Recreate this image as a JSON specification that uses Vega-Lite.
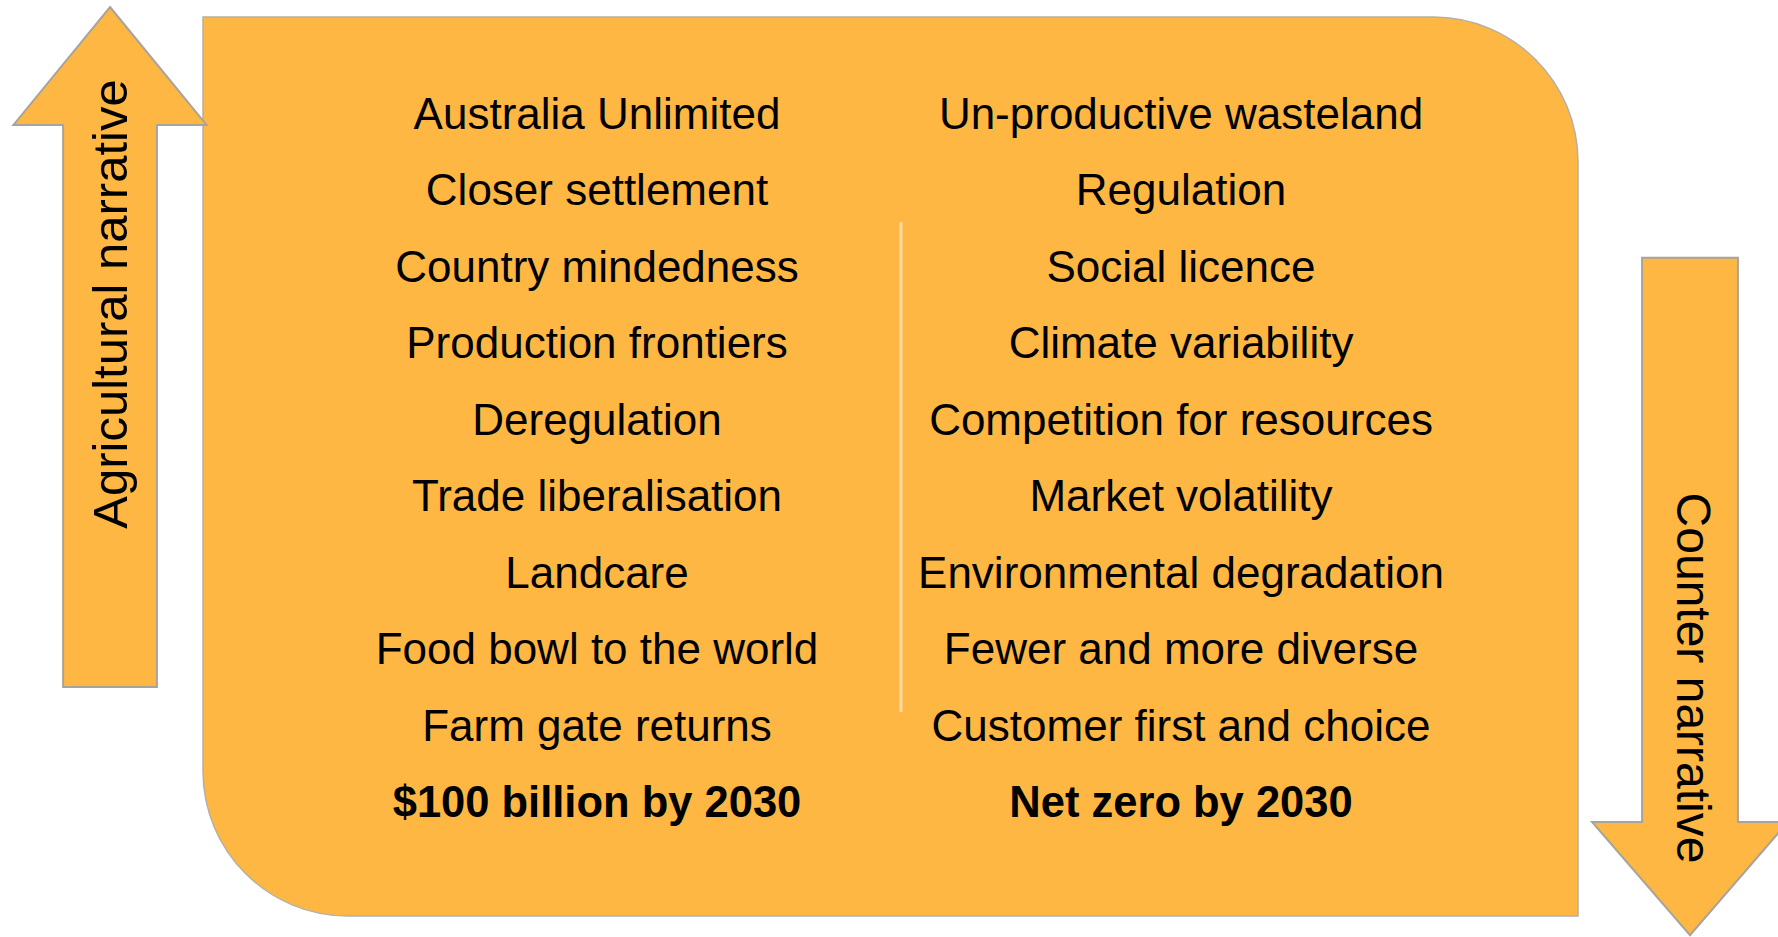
{
  "$schema": "https://vega.github.io/schema/vega-lite/v6.json",
  "width": 1778,
  "height": 937,
  "padding": 0,
  "autosize": {"type": "none"},
  "background": "#ffffff",
  "config": {"view": {"stroke": null}},
  "datasets": {
    "panel": [{"part": "panel", "left": 203, "right": 1578, "top": 17, "bottom": 916}],
    "divider": [{"part": "divider", "x": 901, "top": 222, "bottom": 712}],
    "arrows": [
      {"name": "Agricultural narrative", "dir": "up", "cx": 110, "cy": 347, "tx": 112, "ty": 304},
      {"name": "Counter narrative", "dir": "down", "cx": 1690, "cy": 596.5, "tx": 1691, "ty": 678}
    ],
    "items": [
      {"column": "left", "row": 1, "label": "Australia Unlimited"},
      {"column": "left", "row": 2, "label": "Closer settlement"},
      {"column": "left", "row": 3, "label": "Country mindedness"},
      {"column": "left", "row": 4, "label": "Production frontiers"},
      {"column": "left", "row": 5, "label": "Deregulation"},
      {"column": "left", "row": 6, "label": "Trade liberalisation"},
      {"column": "left", "row": 7, "label": "Landcare"},
      {"column": "left", "row": 8, "label": "Food bowl to the world"},
      {"column": "left", "row": 9, "label": "Farm gate returns"},
      {"column": "left", "row": 10, "label": "$100 billion by 2030"},
      {"column": "right", "row": 1, "label": "Un-productive wasteland"},
      {"column": "right", "row": 2, "label": "Regulation"},
      {"column": "right", "row": 3, "label": "Social licence"},
      {"column": "right", "row": 4, "label": "Climate variability"},
      {"column": "right", "row": 5, "label": "Competition for resources"},
      {"column": "right", "row": 6, "label": "Market volatility"},
      {"column": "right", "row": 7, "label": "Environmental degradation"},
      {"column": "right", "row": 8, "label": "Fewer and more diverse"},
      {"column": "right", "row": 9, "label": "Customer first and choice"},
      {"column": "right", "row": 10, "label": "Net zero by 2030"}
    ]
  },
  "resolve": {"scale": {"x": "independent", "y": "independent"}},
  "layer": [
    {
      "data": {"name": "panel"},
      "mark": {"type": "rect", "fill": "#6e5a36", "opacity": 0.55, "xOffset": 3, "yOffset": 3, "cornerRadiusTopRight": 145, "cornerRadiusBottomLeft": 145},
      "encoding": {
        "x": {"field": "left", "type": "quantitative", "scale": {"domain": [0, 1778], "nice": false, "zero": false}, "axis": null},
        "x2": {"field": "right"},
        "y": {"field": "top", "type": "quantitative", "scale": {"domain": [0, 937], "nice": false, "zero": false, "reverse": true}, "axis": null},
        "y2": {"field": "bottom"}
      }
    },
    {
      "data": {"name": "panel"},
      "mark": {"type": "rect", "fill": "#feb742", "stroke": "#b4b0a8", "strokeWidth": 1.5, "cornerRadiusTopRight": 145, "cornerRadiusBottomLeft": 145},
      "encoding": {
        "x": {"field": "left", "type": "quantitative", "scale": {"domain": [0, 1778], "nice": false, "zero": false}, "axis": null},
        "x2": {"field": "right"},
        "y": {"field": "top", "type": "quantitative", "scale": {"domain": [0, 937], "nice": false, "zero": false, "reverse": true}, "axis": null},
        "y2": {"field": "bottom"}
      }
    },
    {
      "data": {"name": "divider"},
      "mark": {"type": "rule", "stroke": "#fcd9a4", "strokeWidth": 3},
      "encoding": {
        "x": {"field": "x", "type": "quantitative", "scale": {"domain": [0, 1778], "nice": false, "zero": false}, "axis": null},
        "y": {"field": "top", "type": "quantitative", "scale": {"domain": [0, 937], "nice": false, "zero": false, "reverse": true}, "axis": null},
        "y2": {"field": "bottom"}
      }
    },
    {
      "data": {"name": "arrows"},
      "transform": [{"filter": "datum.dir === 'up'"}],
      "mark": {"type": "point", "filled": true, "opacity": 1, "fill": "#feb742", "stroke": "#a8a49c", "strokeWidth": 2, "size": 462400,
        "shape": "M0,-1 L0.284,-0.653 L0.138,-0.653 L0.138,1 L-0.138,1 L-0.138,-0.653 L-0.284,-0.653 Z"},
      "encoding": {
        "x": {"field": "cx", "type": "quantitative", "scale": {"domain": [0, 1778], "nice": false, "zero": false}, "axis": null},
        "y": {"field": "cy", "type": "quantitative", "scale": {"domain": [0, 937], "nice": false, "zero": false, "reverse": true}, "axis": null}
      }
    },
    {
      "data": {"name": "arrows"},
      "transform": [{"filter": "datum.dir === 'down'"}],
      "mark": {"type": "point", "filled": true, "opacity": 1, "fill": "#feb742", "stroke": "#a8a49c", "strokeWidth": 2, "size": 462400,
        "shape": "M-0.141,-0.996 L0.141,-0.996 L0.141,0.663 L0.288,0.663 L0,0.996 L-0.288,0.663 L-0.141,0.663 Z"},
      "encoding": {
        "x": {"field": "cx", "type": "quantitative", "scale": {"domain": [0, 1778], "nice": false, "zero": false}, "axis": null},
        "y": {"field": "cy", "type": "quantitative", "scale": {"domain": [0, 937], "nice": false, "zero": false, "reverse": true}, "axis": null}
      }
    },
    {
      "data": {"name": "arrows"},
      "transform": [{"filter": "datum.dir === 'up'"}],
      "mark": {"type": "text", "angle": 270, "align": "center", "baseline": "middle", "font": "Liberation Sans, Arial, sans-serif", "fontSize": 49, "color": "#000000"},
      "encoding": {
        "x": {"field": "tx", "type": "quantitative", "scale": {"domain": [0, 1778], "nice": false, "zero": false}, "axis": null},
        "y": {"field": "ty", "type": "quantitative", "scale": {"domain": [0, 937], "nice": false, "zero": false, "reverse": true}, "axis": null},
        "text": {"field": "name"}
      }
    },
    {
      "data": {"name": "arrows"},
      "transform": [{"filter": "datum.dir === 'down'"}],
      "mark": {"type": "text", "angle": 90, "align": "center", "baseline": "middle", "font": "Liberation Sans, Arial, sans-serif", "fontSize": 48, "color": "#000000"},
      "encoding": {
        "x": {"field": "tx", "type": "quantitative", "scale": {"domain": [0, 1778], "nice": false, "zero": false}, "axis": null},
        "y": {"field": "ty", "type": "quantitative", "scale": {"domain": [0, 937], "nice": false, "zero": false, "reverse": true}, "axis": null},
        "text": {"field": "name"}
      }
    },
    {
      "data": {"name": "items"},
      "transform": [{"filter": "datum.row < 10"}],
      "mark": {"type": "text", "align": "center", "baseline": "alphabetic", "font": "Liberation Sans, Arial, sans-serif", "fontSize": 44, "color": "#000000"},
      "encoding": {
        "x": {"field": "column", "type": "nominal", "scale": {"type": "point", "domain": ["left", "right"], "range": [597, 1181], "padding": 0}, "axis": null},
        "y": {"field": "row", "type": "ordinal", "scale": {"type": "point", "domain": [1, 2, 3, 4, 5, 6, 7, 8, 9, 10], "range": [129, 817], "padding": 0}, "axis": null},
        "text": {"field": "label"}
      }
    },
    {
      "data": {"name": "items"},
      "transform": [{"filter": "datum.row === 10"}],
      "mark": {"type": "text", "align": "center", "baseline": "alphabetic", "font": "Liberation Sans, Arial, sans-serif", "fontSize": 43.5, "fontWeight": "bold", "color": "#000000"},
      "encoding": {
        "x": {"field": "column", "type": "nominal", "scale": {"type": "point", "domain": ["left", "right"], "range": [597, 1181], "padding": 0}, "axis": null},
        "y": {"field": "row", "type": "ordinal", "scale": {"type": "point", "domain": [1, 2, 3, 4, 5, 6, 7, 8, 9, 10], "range": [129, 817], "padding": 0}, "axis": null},
        "text": {"field": "label"}
      }
    }
  ]
}
